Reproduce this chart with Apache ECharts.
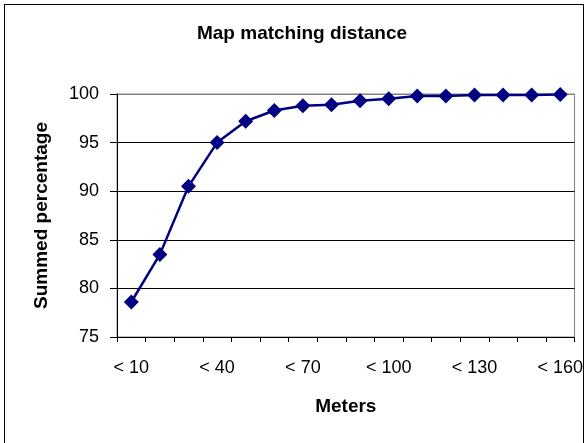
<!DOCTYPE html>
<html><head><meta charset="utf-8">
<script src="https://cdn.jsdelivr.net/npm/echarts@6/dist/echarts.min.js"></script>
<style>
html,body{margin:0;padding:0;background:#fff;}
#frame{position:absolute;left:4px;top:4px;width:580px;height:445px;border:1px solid #000;box-sizing:border-box;}
#c{position:absolute;left:0;top:0;width:586px;height:443px;}
</style></head>
<body>
<div id="frame"></div>
<div id="c"></div>
<script>
const categories = ['< 10','< 20','< 30','< 40','< 50','< 60','< 70','< 80','< 90','< 100','< 110','< 120','< 130','< 140','< 150','< 160'];
const values = [78.6, 83.5, 90.5, 95.0, 97.2, 98.3, 98.8, 98.9, 99.3, 99.5, 99.8, 99.8, 99.9, 99.9, 99.9, 99.95];
const yTicks = {min: 75, max: 100, interval: 5};
const titleText = 'Map matching distance';
const xName = 'Meters';
const yName = 'Summed percentage';

const chart = echarts.init(document.getElementById('c'));
chart.setOption({
  animation: false,
  title: {text: titleText, left: 297, top: 19, textAlign: 'center',
    textStyle: {fontFamily: 'Liberation Sans, Arial', fontWeight: 'bold', fontSize: 19, color: '#000'}},
  grid: {left: 117, right: 10, top: 94, bottom: 106, show: true, borderColor: '#808080', borderWidth: 1},
  xAxis: {
    type: 'category', data: categories, boundaryGap: true,
    name: xName, nameLocation: 'middle', nameGap: 60,
    nameTextStyle: {fontFamily: 'Liberation Sans, Arial', fontWeight: 'bold', fontSize: 19, color: '#000'},
    axisLine: {lineStyle: {color: '#000', width: 1}},
    axisTick: {show: true, interval: 0, length: 5, lineStyle: {color: '#000'}},
    axisLabel: {interval: 2, margin: 22, fontFamily: 'Liberation Sans, Arial', fontSize: 18, color: '#000'},
    splitLine: {show: false}
  },
  yAxis: {
    type: 'value', min: yTicks.min, max: yTicks.max, interval: yTicks.interval,
    name: yName, nameLocation: 'middle', nameGap: 66, nameRotate: 90,
    nameTextStyle: {fontFamily: 'Liberation Sans, Arial', fontWeight: 'bold', fontSize: 19, color: '#000'},
    axisLine: {show: true, lineStyle: {color: '#000', width: 1}},
    axisTick: {show: true, length: 7, lineStyle: {color: '#000'}},
    axisLabel: {margin: 18, fontFamily: 'Liberation Sans, Arial', fontSize: 18, color: '#000'},
    splitLine: {show: true, lineStyle: {color: ['#000','#000','#000','#000','#000','#808080'], width: 1}}
  },
  series: [{
    type: 'line', data: values,
    symbol: 'diamond', symbolSize: 15,
    lineStyle: {color: '#000080', width: 2.5},
    itemStyle: {color: '#000080'}
  }]
});
</script>
</body></html>
